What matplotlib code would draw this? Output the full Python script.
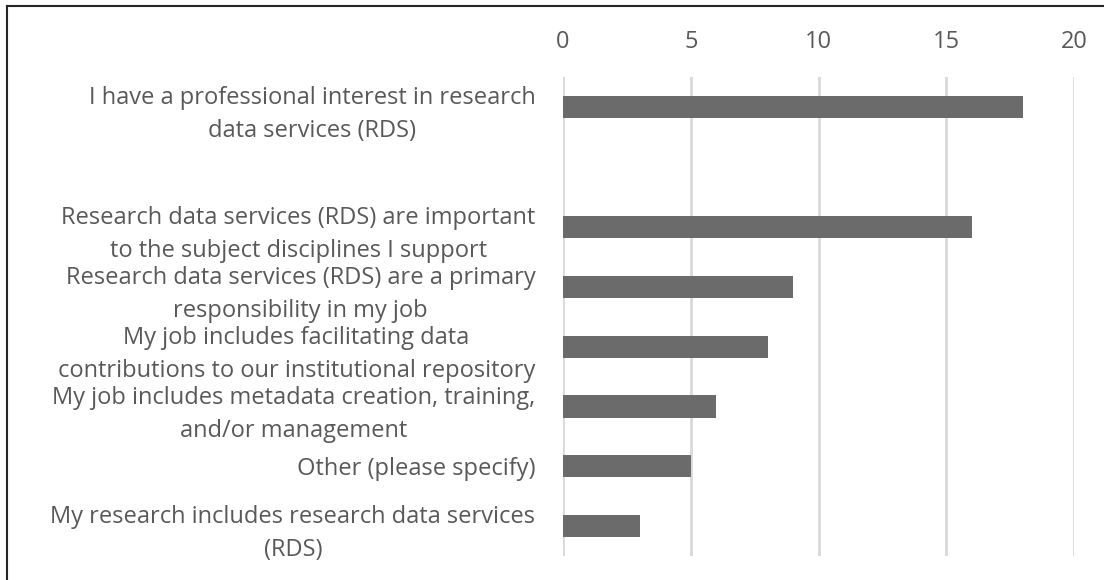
import matplotlib.pyplot as plt
from matplotlib.lines import Line2D

# survey responses, top to bottom (blank row keeps the gap under the first bar)
labels = [
    'I have a professional interest in research\ndata services (RDS)',
    '',
    'Research data services (RDS) are important\nto the subject disciplines I support',
    'Research data services (RDS) are a primary\nresponsibility in my job',
    'My job includes facilitating data\ncontributions to our institutional repository',
    'My job includes metadata creation, training,\nand/or management',
    'Other (please specify)',
    'My research includes research data services\n(RDS)',
]
counts = [18, 0, 16, 9, 8, 6, 5, 3]
xticks = [0, 5, 10, 15, 20]

plt.rcParams['font.family'] = ['Open Sans', 'DejaVu Sans']
text_color = '#595959'

fig = plt.figure(figsize=(11.04, 5.8), dpi=100)
ax = fig.add_axes([0.51, 0.041, 0.463, 0.826])

ypos = list(range(len(labels)))
ax.barh(ypos, counts, height=0.37, color='#6b6b6b', linewidth=0, zorder=3)

ax.set_xlim(0, 20)
ax.set_ylim(len(labels) - 0.5, -0.5)
ax.set_xticks(xticks)
ax.xaxis.tick_top()
ax.set_yticks(ypos)
ax.set_yticklabels(labels)
for t in ax.get_yticklabels():
    t.set_multialignment('center')
    t.set_linespacing(1.5)

ax.tick_params(axis='both', length=0, labelsize=17, colors=text_color)
ax.tick_params(axis='x', pad=17)
ax.tick_params(axis='y', pad=20)
ax.grid(axis='x', color='#d9d9d9', linewidth=2, zorder=0)
for s in ax.spines.values():
    s.set_visible(False)

# frame lines along the top and left edges
fig.add_artist(Line2D([0.0063, 1.0], [0.989, 0.989], color='#262626', lw=1.5))
fig.add_artist(Line2D([0.0063, 0.0063], [0.0, 0.989], color='#262626', lw=1.5))

fig.savefig('out.png', dpi=100, facecolor='white')
